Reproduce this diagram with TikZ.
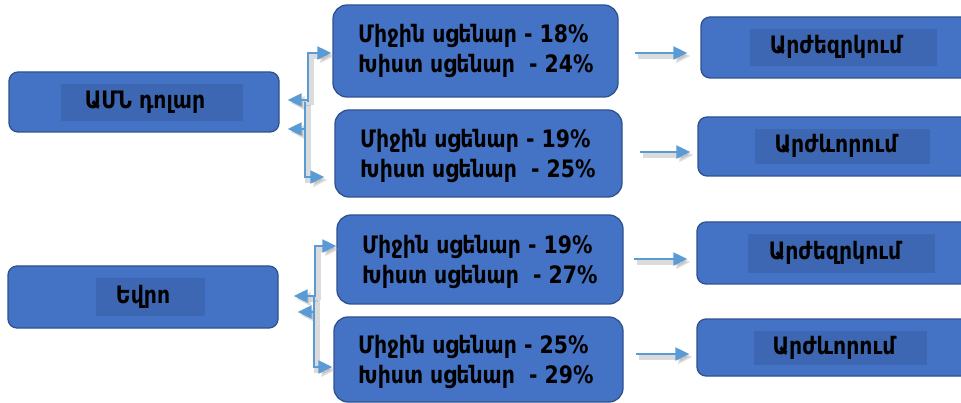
\documentclass[tikz,border=0pt]{standalone}
\usepackage{fontspec}
\setmainfont{DejaVu Sans}[FakeStretch=0.85]
\usetikzlibrary{arrows.meta,calc}
\definecolor{boxfill}{HTML}{4472C4}
\definecolor{boxline}{HTML}{2F528F}
\definecolor{innerfill}{HTML}{3D67B3}
\definecolor{arrowc}{HTML}{5B9BD5}
\tikzset{
  box/.style={draw=boxline, line width=1.3pt, fill=boxfill, rounded corners=9pt, inner sep=0pt},
  midbox/.style={box, rounded corners=14pt},
  innerbox/.style={fill=innerfill, draw=none, inner sep=0pt},
  txt/.style={font=\bfseries\fontsize{24}{30}\selectfont, text=black, inner sep=0pt},
  mtxt/.style={txt, align=left, anchor=west},
  conn/.style={draw=arrowc, line width=2pt, -{Triangle[length=14pt,width=13pt]},
    preaction={draw=black!40, opacity=0.35, line width=6pt, transform canvas={shift={(3pt,-3pt)}}}},
  conn2/.style={conn, {Triangle[length=14pt,width=13pt]}-{Triangle[length=14pt,width=13pt]}},
}
\begin{document}
\begin{tikzpicture}[x=1pt,y=-1pt]
\useasboundingbox (0,0) rectangle (961,403);
\clip (0,0) rectangle (961,403);
% left boxes
\node[box, minimum width=270, minimum height=60] (L1) at (144,102) {};
\node[innerbox, minimum width=182, minimum height=37] (L1i) at (152,102.5) {};
\node[txt] (L1t) at (145,102) {ԱՄՆ դոլար};
\node[box, minimum width=270, minimum height=62] (L2) at (143,297) {};
\node[innerbox, minimum width=109, minimum height=38] (L2i) at (150.5,297) {};
\node[txt] (L2t) at (143,297) {Եվրո};
% middle boxes
\node[midbox, minimum width=285, minimum height=92] (A) at (475.5,51) {};
\node[mtxt] (At) at (358,51) {Միջին սցենար - 18\%\\Խիստ սցենար\ \ - 24\%};
\node[midbox, minimum width=287, minimum height=87] (B) at (478.5,153.5) {};
\node[mtxt] (Bt) at (360,155.5) {Միջին սցենար - 19\%\\Խիստ սցենար\ \ - 25\%};
\node[midbox, minimum width=286, minimum height=89] (C) at (480,259.5) {};
\node[mtxt] (Ct) at (362,262) {Միջին սցենար - 19\%\\Խիստ սցենար\ \ - 27\%};
\node[midbox, minimum width=289, minimum height=85] (D) at (478.5,359.5) {};
\node[mtxt] (Dt) at (358,362) {Միջին սցենար - 25\%\\Խիստ սցենար\ \ - 29\%};
% right boxes
\node[box, minimum width=280, minimum height=61] (R1) at (841,47.5) {};
\node[innerbox, minimum width=187, minimum height=37] (R1i) at (843.5,47.5) {};
\node[txt] (R1t) at (836,47) {Արժեզրկում};
\node[box, minimum width=283, minimum height=59] (R2) at (839.5,146.5) {};
\node[innerbox, minimum width=175, minimum height=35] (R2i) at (842.5,146.5) {};
\node[txt] (R2t) at (836,146) {Արժևորում};
\node[box, minimum width=284, minimum height=62] (R3) at (839,253) {};
\node[innerbox, minimum width=187, minimum height=39] (R3i) at (841.5,253.5) {};
\node[txt] (R3t) at (835,253) {Արժեզրկում};
\node[box, minimum width=284, minimum height=57] (R4) at (839,347.5) {};
\node[innerbox, minimum width=173, minimum height=34] (R4i) at (840.5,348) {};
\node[txt] (R4t) at (834,348) {Արժևորում};
% elbow connectors
\draw[conn2] ([shift={(8,-2)}]L1.east) -| ($(L1.east)+(28,0)$) |- ([shift={(-1,2)}]A.west);
\draw[conn2] ([shift={(8,27)}]L1.east) -| ($(L1.east)+(25,0)$) |- ([shift={(-10,23.5)}]B.west);
\draw[conn2] ([shift={(15,-1)}]L2.east) -| ($(L2.east)+(36,0)$) |- ([shift={(0,-13.5)}]C.west);
\draw[conn2] ([shift={(19,15)}]L2.east) -| ($(L2.east)+(35,0)$) |- ([shift={(-1,7.5)}]D.west);
% right arrows
\draw[conn] ([shift={(16,2)}]A.east) -- ([shift={(-13,5.5)}]R1.west);
\draw[conn] ([shift={(17,-1.5)}]B.east) -- ([shift={(-7,5.5)}]R2.west);
\draw[conn] ([shift={(10,-0.5)}]C.east) -- ([shift={(-9,6)}]R3.west);
\draw[conn] ([shift={(12,-5.5)}]D.east) -- ([shift={(-7,6.5)}]R4.west);
\end{tikzpicture}
\end{document}
